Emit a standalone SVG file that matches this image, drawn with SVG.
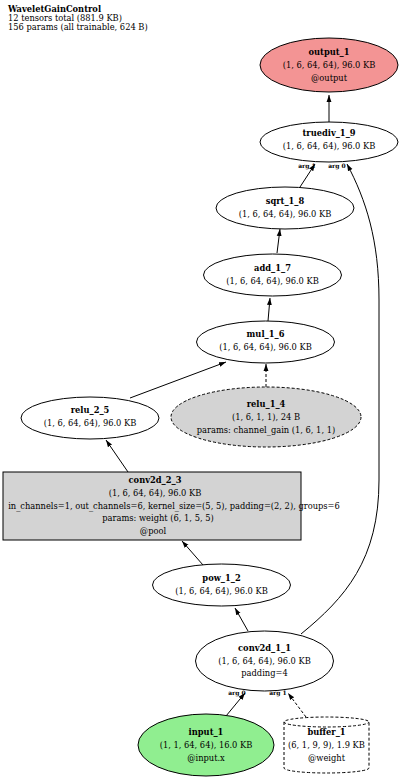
<svg xmlns="http://www.w3.org/2000/svg" width="400" height="779" viewBox="0 0 400 779">
<style>
text{font-family:"DejaVu Serif","Liberation Serif",serif;font-size:8.3px;fill:#000;text-anchor:middle}
.b{font-weight:bold}
.t{text-anchor:start}
.lbl{font-size:6px;font-weight:bold}
.n{stroke:#000;stroke-width:1;fill:#fff}
.d{stroke-dasharray:3,2}
.e{fill:none;stroke:#000;stroke-width:1}
</style>
<defs>
<marker id="a" viewBox="0 0 10 10" refX="10" refY="5" markerWidth="7" markerHeight="7" orient="auto" markerUnits="userSpaceOnUse"><path d="M0,1.5 L10,5 L0,8.5 z" fill="#000"/></marker>
</defs>
<rect width="400" height="779" fill="#fff"/>
<g id="title">
<text class="t b" x="8" y="12">WaveletGainControl</text>
<text class="t" x="8" y="21">12 tensors total (881.9 KB)</text>
<text class="t" x="8" y="30">156 params (all trainable, 624 B)</text>
</g>
<g id="edges">
<path class="e" d="M329,122 L329,95" marker-end="url(#a)"/>
<path class="e" d="M300,187 L315,164" marker-end="url(#a)"/>
<path class="e" d="M277,253 L280,229" marker-end="url(#a)"/>
<path class="e" d="M268,321 L270,298" marker-end="url(#a)"/>
<path class="e" d="M130,398 L226,362" marker-end="url(#a)"/>
<path class="e d" d="M266,387 L266,364" marker-end="url(#a)"/>
<path class="e" d="M128,472 L106,440" marker-end="url(#a)"/>
<path class="e" d="M203,565 L182,541" marker-end="url(#a)"/>
<path class="e" d="M248,631 L235,608" marker-end="url(#a)"/>
<path class="e" d="M301,634 C345,598 379,560 379,480 L379,300 C379,240 366,200 347,164" marker-end="url(#a)"/>
<path class="e" d="M226,716 L245,693" marker-end="url(#a)"/>
<path class="e d" d="M309,721 L288,693" marker-end="url(#a)"/>
<text class="lbl" x="307" y="168">arg 1</text>
<text class="lbl" x="337" y="168">arg 0</text>
<text class="lbl" x="237" y="695">arg 0</text>
<text class="lbl" x="278" y="695">arg 1</text>
</g>
<g id="output_1">
<ellipse class="n" cx="329" cy="65" rx="69" ry="27" style="fill:#f39494"/>
<text class="b" x="329" y="55">output_1</text>
<text x="329" y="68">(1, 6, 64, 64), 96.0 KB</text>
<text x="329" y="81">@output</text>
</g>
<g id="truediv_1_9">
<ellipse class="n" cx="329" cy="142" rx="69" ry="20"/>
<text class="b" x="329" y="136">truediv_1_9</text>
<text x="329" y="149">(1, 6, 64, 64), 96.0 KB</text>
</g>
<g id="sqrt_1_8">
<ellipse class="n" cx="285" cy="208" rx="69" ry="21"/>
<text class="b" x="285" y="204">sqrt_1_8</text>
<text x="285" y="217">(1, 6, 64, 64), 96.0 KB</text>
</g>
<g id="add_1_7">
<ellipse class="n" cx="272.5" cy="275" rx="69" ry="21"/>
<text class="b" x="272.5" y="271">add_1_7</text>
<text x="272.5" y="284">(1, 6, 64, 64), 96.0 KB</text>
</g>
<g id="mul_1_6">
<ellipse class="n" cx="265.5" cy="342" rx="69" ry="21"/>
<text class="b" x="265.5" y="337">mul_1_6</text>
<text x="265.5" y="350">(1, 6, 64, 64), 96.0 KB</text>
</g>
<g id="relu_2_5">
<ellipse class="n" cx="90" cy="418" rx="69" ry="21"/>
<text class="b" x="90" y="413">relu_2_5</text>
<text x="90" y="426">(1, 6, 64, 64), 96.0 KB</text>
</g>
<g id="relu_1_4">
<ellipse class="n d" cx="266" cy="417" rx="95" ry="30" style="fill:#d3d3d3"/>
<text class="b" x="266" y="407">relu_1_4</text>
<text x="266" y="420">(1, 6, 1, 1), 24 B</text>
<text x="266" y="433">params: channel_gain (1, 6, 1, 1)</text>
</g>
<g id="conv2d_2_3">
<rect class="n" x="3" y="472" width="298" height="68" style="fill:#d3d3d3"/>
<text class="b" x="155" y="483">conv2d_2_3</text>
<text x="155" y="496">(1, 6, 64, 64), 96.0 KB</text>
<text x="174" y="509">in_channels=1, out_channels=6, kernel_size=(5, 5), padding=(2, 2), groups=6</text>
<text x="158" y="521">params: weight (6, 1, 5, 5)</text>
<text x="153" y="534">@pool</text>
</g>
<g id="pow_1_2">
<ellipse class="n" cx="221.5" cy="585" rx="69" ry="21"/>
<text class="b" x="221.5" y="581">pow_1_2</text>
<text x="221.5" y="594">(1, 6, 64, 64), 96.0 KB</text>
</g>
<g id="conv2d_1_1">
<ellipse class="n" cx="264.5" cy="661" rx="69" ry="30"/>
<text class="b" x="264.5" y="651">conv2d_1_1</text>
<text x="264.5" y="664">(1, 6, 64, 64), 96.0 KB</text>
<text x="264.5" y="676">padding=4</text>
</g>
<g id="input_1">
<ellipse class="n" cx="206" cy="745" rx="68" ry="31" style="fill:#90ee90"/>
<text class="b" x="206" y="735">input_1</text>
<text x="206" y="748">(1, 1, 64, 64), 16.0 KB</text>
<text x="206" y="761">@input.x</text>
</g>
<g id="buffer_1">
<path class="n d" d="M284,722 L284,768 A42.5,5 0 0 0 369,768 L369,722 A42.5,5 0 0 0 284,722 A42.5,5 0 0 0 369,722"/>
<text class="b" x="326.5" y="735">buffer_1</text>
<text x="326.5" y="748">(6, 1, 9, 9), 1.9 KB</text>
<text x="326.5" y="761">@weight</text>
</g>
</svg>
